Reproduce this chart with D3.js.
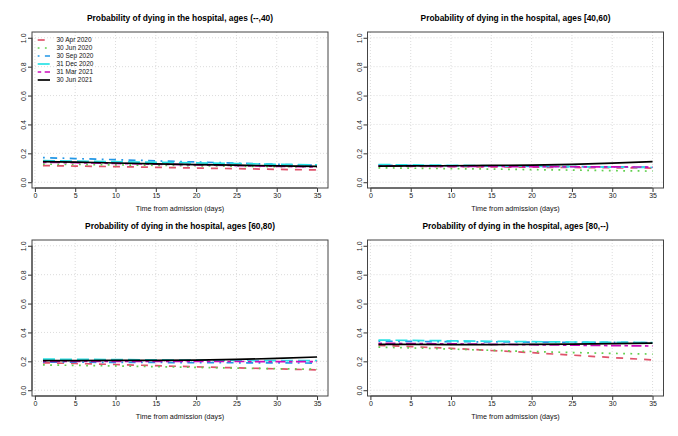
<!DOCTYPE html>
<html><head><meta charset="utf-8">
<script src="https://cdn.jsdelivr.net/npm/d3@7"></script>
<style>
html,body{margin:0;padding:0;background:#fff;}
svg{display:block;font-family:"Liberation Sans",Arial,Helvetica,sans-serif;}
</style></head>
<body><svg id="chart" width="678" height="436"></svg>
<script>
// ---- data ----
const days = [1, 5, 10, 15, 20, 25, 30, 35];
const seriesNames = ["30 Apr 2020", "30 Jun 2020", "30 Sep 2020", "31 Dec 2020", "31 Mar 2021", "30 Jun 2021"];
const panelTitles = [
  "Probability of dying in the hospital, ages (--,40)",
  "Probability of dying in the hospital, ages [40,60)",
  "Probability of dying in the hospital, ages [60,80)",
  "Probability of dying in the hospital, ages [80,--)"
];
const xTicks = [0, 5, 10, 15, 20, 25, 30, 35];
const yTicks = [0, 0.2, 0.4, 0.6, 0.8, 1.0];

// one array per series (order = seriesNames), per age group
const ageUnder40 = [
  [0.115, 0.112, 0.108, 0.103, 0.098, 0.094, 0.089, 0.085],
  [0.125, 0.123, 0.120, 0.117, 0.114, 0.111, 0.108, 0.105],
  [0.170, 0.164, 0.156, 0.148, 0.140, 0.132, 0.124, 0.117],
  [0.150, 0.146, 0.142, 0.138, 0.134, 0.129, 0.124, 0.120],
  [0.138, 0.135, 0.130, 0.125, 0.120, 0.115, 0.110, 0.106],
  [0.143, 0.139, 0.133, 0.127, 0.122, 0.118, 0.113, 0.110]
];
const age40to60 = [
  [0.112, 0.110, 0.108, 0.106, 0.104, 0.102, 0.100, 0.098],
  [0.100, 0.097, 0.094, 0.091, 0.087, 0.084, 0.080, 0.077],
  [0.118, 0.116, 0.114, 0.112, 0.110, 0.108, 0.106, 0.104],
  [0.122, 0.120, 0.117, 0.114, 0.111, 0.108, 0.105, 0.102],
  [0.112, 0.111, 0.110, 0.109, 0.108, 0.107, 0.106, 0.105],
  [0.112, 0.113, 0.114, 0.116, 0.119, 0.124, 0.132, 0.143]
];
const age60to80 = [
  [0.190, 0.185, 0.178, 0.170, 0.162, 0.155, 0.148, 0.141],
  [0.175, 0.172, 0.168, 0.163, 0.158, 0.153, 0.149, 0.145],
  [0.195, 0.194, 0.193, 0.192, 0.191, 0.190, 0.189, 0.188],
  [0.215, 0.214, 0.212, 0.210, 0.208, 0.206, 0.205, 0.205],
  [0.200, 0.200, 0.200, 0.200, 0.199, 0.199, 0.198, 0.198],
  [0.205, 0.205, 0.206, 0.207, 0.209, 0.213, 0.220, 0.230]
];
const age80plus = [
  [0.310, 0.302, 0.290, 0.275, 0.260, 0.243, 0.226, 0.210],
  [0.298, 0.293, 0.285, 0.276, 0.268, 0.261, 0.255, 0.250],
  [0.340, 0.338, 0.336, 0.335, 0.333, 0.332, 0.331, 0.330],
  [0.347, 0.345, 0.342, 0.339, 0.336, 0.334, 0.332, 0.330],
  [0.325, 0.323, 0.321, 0.318, 0.315, 0.312, 0.309, 0.306],
  [0.318, 0.317, 0.316, 0.316, 0.317, 0.319, 0.322, 0.326]
];
const panelData = [ageUnder40, age40to60, age60to80, age80plus];

// ---- styles ----
const colors = ["#DF536B", "#61D04F", "#2297E6", "#28E2E5", "#CD0BBC", "#000000"];
const dashes = ["7,7", "1.8,5.4", "1.8,5.4,7,5.4", "12,5", "3.5,3.5,10,3.5", null];
const lw = 1.7;

const svg = d3.select("#chart");
const boxW = 296, boxH = 156;
const lefts = [32, 367.5], tops = [32, 240];

panelData.forEach((data, pi) => {
  const col = pi % 2, row = Math.floor(pi / 2);
  const L = lefts[col], T = tops[row];
  const g = svg.append("g");
  const x = d3.scaleLinear().domain([-0.36, 36.36]).range([L, L + boxW]);
  const y = d3.scaleLinear().domain([-0.04, 1.04]).range([T + boxH, T]);

  // grid
  g.append("g").selectAll("line").data(xTicks).join("line")
    .attr("x1", d => x(d)).attr("x2", d => x(d)).attr("y1", T).attr("y2", T + boxH)
    .attr("stroke", "#d3d3d3").attr("stroke-width", 0.8).attr("stroke-dasharray", "1,2");
  g.append("g").selectAll("line").data(yTicks).join("line")
    .attr("y1", d => y(d)).attr("y2", d => y(d)).attr("x1", L).attr("x2", L + boxW)
    .attr("stroke", "#d3d3d3").attr("stroke-width", 0.8).attr("stroke-dasharray", "1,2");

  // lines
  const line = d3.line().x((d, i) => x(days[i])).y(d => y(d));
  data.forEach((vals, si) => {
    g.append("path").datum(vals).attr("d", line)
      .attr("fill", "none").attr("stroke", colors[si]).attr("stroke-width", lw)
      .attr("stroke-dasharray", dashes[si]);
  });

  // axes
  const xa = g.append("g").attr("transform", `translate(0,${T + boxH})`)
    .call(d3.axisBottom(x).tickValues(xTicks).tickSize(4).tickPadding(1.5).tickFormat(d3.format("d")));
  xa.select(".domain").attr("d", `M${x(0)},0H${x(35)}`).attr("stroke", "#333");
  xa.selectAll(".tick line").attr("stroke", "#333");
  xa.selectAll("text").attr("font-size", 7).attr("fill", "#222").attr("font-family", "Liberation Sans, Arial, sans-serif");

  const ya = g.append("g").attr("transform", `translate(${L},0)`)
    .call(d3.axisLeft(y).tickValues(yTicks).tickSize(4).tickFormat(d3.format(".1f")));
  ya.select(".domain").attr("d", `M0,${y(0)}V${y(1)}`).attr("stroke", "#333");
  ya.selectAll(".tick line").attr("stroke", "#333");
  ya.selectAll("text").attr("font-size", 7).attr("fill", "#222")
    .attr("font-family", "Liberation Sans, Arial, sans-serif")
    .attr("x", 0).attr("dy", null).attr("text-anchor", "middle")
    .attr("transform", "translate(-6,0) rotate(-90)").attr("y", 0);

  // box
  g.append("rect").attr("x", L).attr("y", T).attr("width", boxW).attr("height", boxH)
    .attr("fill", "none").attr("stroke", "#444").attr("stroke-width", 1);

  // title
  g.append("text").attr("x", L + boxW / 2).attr("y", T - 11)
    .attr("text-anchor", "middle").attr("font-weight", "bold").attr("font-size", 8.4)
    .attr("fill", "#000").text(panelTitles[pi]);
  // x label
  g.append("text").attr("x", L + boxW / 2).attr("y", T + boxH + 22.5)
    .attr("text-anchor", "middle").attr("font-size", 7.2).attr("fill", "#111")
    .text("Time from admission (days)");

  // legend in first panel
  if (pi === 0) {
    const lg = g.append("g");
    seriesNames.forEach((name, si) => {
      const yy = 40 + si * 8;
      lg.append("line").attr("x1", 37.7).attr("x2", 50).attr("y1", yy).attr("y2", yy)
        .attr("stroke", colors[si]).attr("stroke-width", lw).attr("stroke-dasharray", dashes[si]);
      lg.append("text").attr("x", 56.5).attr("y", yy + 2.3).attr("font-size", 6.5)
        .attr("fill", "#111").text(name);
    });
  }
});
</script>
</body></html>
